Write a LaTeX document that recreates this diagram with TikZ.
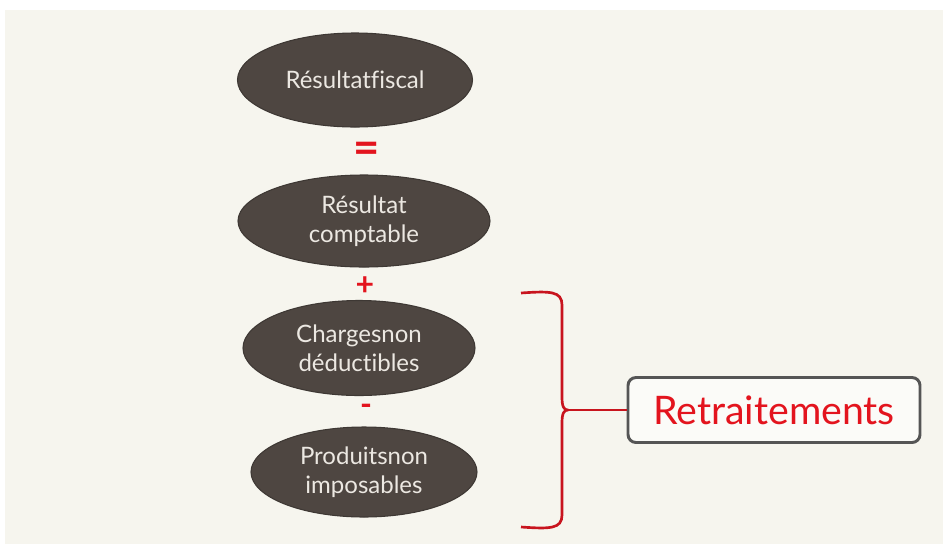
\documentclass[tikz,border=0pt]{standalone}
\usepackage{fontspec}
\setmainfont{Lato}[Ligatures=NoCommon]
\usetikzlibrary{shapes.geometric}
\definecolor{bg}{HTML}{F6F5EE}
\definecolor{ell}{HTML}{4E4641}
\definecolor{sign}{HTML}{E3141E}
\definecolor{brace}{HTML}{C8141E}
\definecolor{boxline}{HTML}{555555}
\definecolor{ovaltext}{HTML}{ECE8E2}
\tikzset{
  oval/.style={ellipse, fill=ell, draw=ell!80!black, line width=0.8pt, text=ovaltext,
    font=\fontsize{18}{22}\selectfont, align=center, inner sep=0pt},
  signtxt/.style={text=sign, font=\bfseries\fontsize{24}{24}\selectfont, inner sep=0pt},
  retbox/.style={draw=boxline, line width=2.2pt, rounded corners=6pt, fill=white!60!bg,
    text=sign, font=\fontsize{29.5}{32}\selectfont, minimum width=292*0.75pt, minimum height=65*0.75pt},
}
\begin{document}
\begin{tikzpicture}[x=0.75pt,y=-0.75pt]
\useasboundingbox (0,0) rectangle (943,544);
\fill[white] (0,0) rectangle (943,544);
\fill[bg] (5,10) rectangle (943,544);
\node[oval, minimum width=235*0.75pt, minimum height=94*0.75pt] (f) at (355,80) {Résultatfiscal};
\node[signtxt, font=\bfseries\fontsize{34}{34}\selectfont] (eq) at (367,153) {=};
\node[oval, minimum width=252*0.75pt, minimum height=92*0.75pt] (c) at (364,221) {Résultat\\comptable};
\node[signtxt] (plus) at (365,286) {+};
\node[oval, minimum width=232*0.75pt, minimum height=95*0.75pt] (ch) at (359,348) {Chargesnon\\déductibles};
\node[signtxt] (minus) at (366,410) {-};
\node[oval, minimum width=226*0.75pt, minimum height=90*0.75pt] (p) at (364,472) {Produitsnon\\imposables};
\node[retbox] (r) at (774,410) {Retraitements};
\coordinate (bt) at (521,293);
\coordinate (bb) at (521,527);
\coordinate (tip) at (568,410);
\draw[brace, line width=2pt, line join=round]
  (bt) .. controls (550,291) and (562,291) .. (562,305)
  -- (562,397) .. controls (562,407) and (564,410) .. (tip)
  .. controls (564,410) and (562,413) .. (562,423)
  -- (562,515) .. controls (562,529) and (550,529) .. (bb);
\draw[brace, line width=2pt] (tip) -- (tip -| r.west);
\end{tikzpicture}
\end{document}
